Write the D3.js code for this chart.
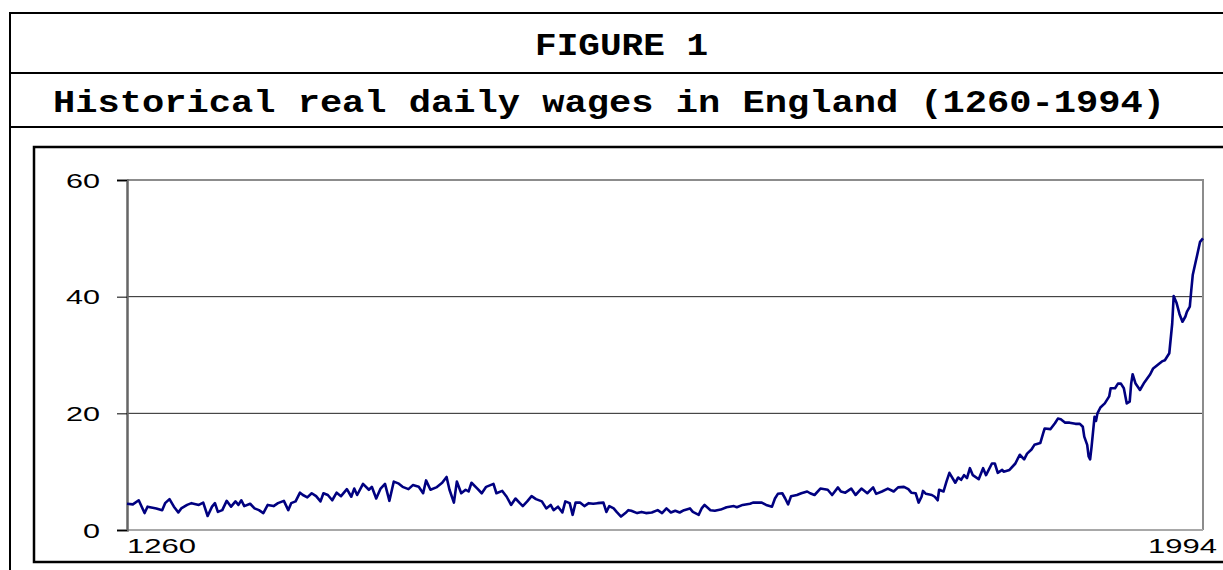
<!DOCTYPE html>
<html>
<head>
<meta charset="utf-8">
<script src="https://cdn.jsdelivr.net/npm/d3@7/dist/d3.min.js"></script>
<style>
  html, body { margin: 0; padding: 0; background: #fff; }
  svg { display: block; }
</style>
</head>
<body>
<svg id="chart" width="1223" height="570"></svg>
<script>
// ---- data ----
const years = [1260,1264,1268,1272,1274,1280,1284,1286,1289,1292,1295,1297,1301,1304,1309,1312,1315,1318,1320,1322,1325,1328,1331,1334,1336,1338,1340,1344,1347,1350,1353,1356,1360,1363,1367,1370,1372,1375,1378,1380,1383,1386,1389,1392,1394,1397,1400,1403,1406,1410,1413,1415,1417,1421,1425,1427,1430,1433,1436,1439,1442,1445,1448,1452,1455,1459,1462,1464,1467,1471,1475,1478,1480,1483,1485,1488,1491,1493,1495,1499,1502,1505,1510,1512,1516,1519,1522,1525,1528,1530,1533,1536,1539,1543,1546,1549,1551,1554,1557,1559,1562,1564,1566,1569,1572,1575,1578,1581,1585,1587,1589,1592,1594,1597,1600,1602,1604,1608,1611,1614,1618,1622,1625,1628,1631,1634,1637,1640,1644,1646,1650,1652,1654,1658,1661,1665,1669,1674,1676,1680,1685,1687,1693,1696,1700,1702,1704,1707,1709,1711,1713,1717,1720,1724,1726,1729,1733,1736,1738,1741,1745,1747,1750,1754,1757,1761,1765,1769,1771,1775,1779,1783,1786,1790,1793,1795,1798,1800,1802,1803,1805,1809,1811,1813,1814,1817,1819,1821,1825,1827,1829,1831,1833,1835,1837,1841,1844,1846,1850,1852,1854,1857,1858,1862,1866,1869,1872,1874,1877,1879,1883,1885,1886,1890,1893,1895,1897,1900,1903,1907,1910,1912,1913,1915,1916,1917,1918,1920,1921,1922,1924,1927,1930,1931,1934,1936,1938,1940,1942,1944,1945,1946,1948,1951,1954,1958,1960,1963,1966,1968,1971,1973,1974,1976,1978,1980,1982,1983,1985,1986,1987,1989,1990,1992,1994];
const wages = [4.5,4.4,5.1,2.9,4.0,3.7,3.4,4.6,5.3,4.0,3.0,3.7,4.3,4.6,4.3,4.7,2.4,4.0,4.6,3.1,3.4,5.0,4.0,4.9,4.3,5.1,4.1,4.5,3.7,3.4,2.9,4.3,4.1,4.6,5.0,3.4,4.6,4.9,6.4,6.0,5.6,6.3,5.8,4.9,6.3,6.0,5.1,6.4,5.8,7.0,5.7,7.1,6.0,7.9,6.9,7.4,5.4,7.1,7.9,5.0,8.3,8.0,7.4,7.0,7.7,7.4,6.3,8.5,6.9,7.3,8.1,9.1,6.9,4.7,8.3,6.3,6.9,6.6,8.1,7.1,6.3,7.4,7.9,6.3,6.7,5.7,4.3,5.4,4.6,4.1,4.9,5.8,5.3,4.9,3.7,4.3,3.4,4.0,3.0,4.9,4.6,2.6,4.7,4.7,4.1,4.6,4.5,4.6,4.7,3.1,4.1,3.7,3.1,2.3,2.9,3.4,3.3,2.9,3.1,2.9,3.0,3.4,2.9,3.7,3.0,3.3,3.0,3.4,3.7,3.1,2.6,3.7,4.3,3.4,3.3,3.5,3.9,4.1,3.9,4.3,4.5,4.7,4.7,4.3,4.0,5.4,6.2,6.3,5.4,4.4,5.8,6.0,6.3,6.6,6.3,6.0,7.1,7.0,6.9,6.0,7.3,6.6,6.4,7.1,6.0,7.1,6.3,7.3,6.2,6.6,7.1,6.6,7.3,7.4,7.0,6.4,6.3,4.7,5.7,6.7,6.2,6.0,5.7,5.1,6.9,6.6,8.3,9.8,8.1,9.0,8.6,9.4,8.9,10.6,9.4,8.7,10.6,9.4,11.4,11.4,9.8,10.3,10.0,10.3,11.4,12.9,12.1,13.1,13.8,14.6,14.9,16.6,17.4,17.3,18.3,19.1,19.0,18.4,18.4,18.2,18.2,17.7,16.0,14.6,12.6,12.1,14.3,19.4,18.7,20.0,21.0,21.7,22.9,24.3,24.3,25.1,25.1,24.3,21.7,22.0,25.1,26.7,25.1,24.0,25.3,26.7,27.7,28.3,28.9,29.1,30.3,35.4,40.1,38.9,37.0,35.7,36.6,37.4,38.3,41.1,43.7,46.0,47.1,49.4,50.0];
const yTicks = [0, 20, 40, 60];
const xTickLabels = ["1260", "1994"];
const figureLabel = "FIGURE 1";
const titleText = "Historical real daily wages in England (1260-1994)";

// ---- layout ----
const svg = d3.select("#chart");
const plot = { left: 127, right: 1203, top: 180, bottom: 530 };

const x = d3.scaleLinear().domain([1260, 1994]).range([plot.left, plot.right]);
const y = d3.scaleLinear().domain([0, 60]).range([plot.bottom, plot.top]);

// outer frame and separators
svg.append("rect").attr("x", 10).attr("y", 13).attr("width", 1240).attr("height", 600)
  .attr("fill", "none").attr("stroke", "#000").attr("stroke-width", 2);
[73, 127].forEach(yy => {
  svg.append("line").attr("x1", 10).attr("x2", 1223).attr("y1", yy).attr("y2", yy)
    .attr("stroke", "#000").attr("stroke-width", 2);
});

// titles
svg.append("text").text(figureLabel)
  .attr("x", 535).attr("y", 55)
  .attr("textLength", 173).attr("lengthAdjust", "spacingAndGlyphs")
  .style("font-family", "'Liberation Mono', 'Courier New', monospace")
  .style("font-weight", "bold").style("font-size", "32px").attr("fill", "#000");

svg.append("text").text(titleText)
  .attr("x", 53).attr("y", 112)
  .attr("textLength", 1112).attr("lengthAdjust", "spacingAndGlyphs")
  .style("font-family", "'Liberation Mono', 'Courier New', monospace")
  .style("font-weight", "bold").style("font-size", "32px").attr("fill", "#000");

// inner chart box
svg.append("rect").attr("x", 34).attr("y", 147).attr("width", 1220).attr("height", 415)
  .attr("fill", "none").attr("stroke", "#000").attr("stroke-width", 2.5);

// gridlines
svg.append("g").selectAll("line").data(yTicks.filter(d => d > 0 && d < 60)).join("line")
  .attr("x1", plot.left).attr("x2", plot.right)
  .attr("y1", d => y(d)).attr("y2", d => y(d))
  .attr("stroke", "#222").attr("stroke-width", 1);

// plot frame (top, right, bottom in gray)
svg.append("line").attr("x1", plot.left).attr("x2", plot.right + 1).attr("y1", y(60)).attr("y2", y(60))
  .attr("stroke", "#8c8c8c").attr("stroke-width", 2);
svg.append("line").attr("x1", plot.right).attr("x2", plot.right).attr("y1", y(60)).attr("y2", y(0))
  .attr("stroke", "#8c8c8c").attr("stroke-width", 2);
svg.append("line").attr("x1", plot.left).attr("x2", plot.right).attr("y1", y(0)).attr("y2", y(0))
  .attr("stroke", "#a8a8a8").attr("stroke-width", 2);

// y axis
const yAxis = d3.axisLeft(y).tickValues(yTicks).tickSize(10).tickPadding(16);
const gy = svg.append("g").attr("transform", `translate(${plot.left},0)`).call(yAxis);
gy.select(".domain").attr("stroke", "#666").attr("stroke-width", 2.5);
gy.selectAll(".tick line").attr("stroke", "#000").attr("stroke-width", 1);
gy.selectAll(".tick text")
  .attr("dy", null).attr("y", 7)
  .style("font-family", "'Liberation Sans', Arial, sans-serif")
  .style("font-size", "20px").attr("fill", "#000")
  .attr("x", -27)
  .attr("textLength", d => String(d).length * 17)
  .attr("lengthAdjust", "spacingAndGlyphs");

// x labels
svg.append("g").selectAll("text").data(xTickLabels).join("text")
  .text(d => d)
  .attr("x", (d, i) => i === 0 ? x(+d) : x(+d) + 14)
  .attr("y", 553)
  .attr("text-anchor", (d, i) => i === 0 ? "start" : "end")
  .attr("textLength", 69).attr("lengthAdjust", "spacingAndGlyphs")
  .style("font-family", "'Liberation Sans', Arial, sans-serif")
  .style("font-size", "20px").attr("fill", "#000");

// data line
const data = years.map((yr, i) => ({ year: yr, v: wages[i] }));
const line = d3.line().x(d => x(d.year)).y(d => y(d.v));
svg.append("path").datum(data).attr("d", line)
  .attr("fill", "none").attr("stroke", "#000080").attr("stroke-width", 2.6)
  .attr("stroke-linejoin", "round");
</script>
</body>
</html>
